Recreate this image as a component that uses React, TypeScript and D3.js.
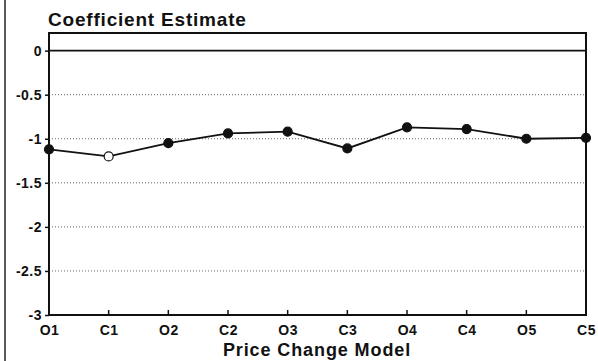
import { useEffect, useRef } from 'react';
import * as d3 from 'd3';

const models = ['O1', 'C1', 'O2', 'C2', 'O3', 'C3', 'O4', 'C4', 'O5', 'C5'];
const estimates = [-1.12, -1.2, -1.05, -0.94, -0.92, -1.11, -0.87, -0.89, -1.0, -0.99];
const hollow = [false, true, false, false, false, false, false, false, false, false];
const yTicks = [0, -0.5, -1, -1.5, -2, -2.5, -3];

const W = 598;
const H = 361;
const margin = { top: 33, right: 12, bottom: 46, left: 49 };
const font = '"Liberation Sans", Arial, sans-serif';

const App = () => {
    const svgRef = useRef(null);

    useEffect(() => {
        if (!svgRef.current) return;
        const svg = d3.select(svgRef.current);
        svg.selectAll('*').remove();

        const x = d3.scalePoint().domain(models).range([margin.left, W - margin.right]);
        const y = d3.scaleLinear().domain([-3, 0.2]).range([H - margin.bottom, margin.top]);

        // scan border on the left
        svg.append('line')
            .attr('x1', 5).attr('x2', 5).attr('y1', 0).attr('y2', H)
            .attr('stroke', '#222').attr('stroke-width', 1.5);

        // grid
        svg.append('g').selectAll('line')
            .data(yTicks.filter(d => d !== 0 && d !== -3))
            .join('line')
            .attr('x1', margin.left).attr('x2', W - margin.right)
            .attr('y1', d => y(d)).attr('y2', d => y(d))
            .attr('stroke', '#666').attr('stroke-width', 1)
            .attr('stroke-dasharray', '1,2');

        svg.append('line')
            .attr('x1', margin.left).attr('x2', W - margin.right)
            .attr('y1', y(0)).attr('y2', y(0))
            .attr('stroke', '#111').attr('stroke-width', 1.8);

        // frame
        svg.append('rect')
            .attr('x', margin.left).attr('y', margin.top)
            .attr('width', W - margin.right - margin.left)
            .attr('height', H - margin.bottom - margin.top)
            .attr('fill', 'none').attr('stroke', '#111').attr('stroke-width', 2);

        // y axis
        const yAxis = svg.append('g')
            .attr('transform', `translate(${margin.left},0)`)
            .call(d3.axisLeft(y).tickValues(yTicks).tickSize(4).tickPadding(3).tickFormat(d => String(d)));
        yAxis.select('.domain').remove();
        yAxis.selectAll('line').attr('stroke', '#111').attr('stroke-width', 1.5);
        yAxis.selectAll('text')
            .attr('font-family', font).attr('font-weight', 'bold').attr('font-size', 14)
            .attr('letter-spacing', 0.5).attr('fill', '#111');

        // x axis
        const xAxis = svg.append('g')
            .attr('transform', `translate(0,${H - margin.bottom})`)
            .call(d3.axisBottom(x).tickSize(0).tickPadding(10));
        xAxis.select('.domain').remove();
        xAxis.selectAll('text')
            .attr('font-family', font).attr('font-weight', 'bold').attr('font-size', 14)
            .attr('letter-spacing', 0.5).attr('fill', '#111');
        svg.append('g').selectAll('line')
            .data(models.slice(1, -1))
            .join('line')
            .attr('x1', d => x(d)).attr('x2', d => x(d))
            .attr('y1', H - margin.bottom).attr('y2', H - margin.bottom - 5)
            .attr('stroke', '#111').attr('stroke-width', 1.5);

        // series
        const line = d3.line().x((d, i) => x(models[i])).y(d => y(d));
        svg.append('path')
            .datum(estimates)
            .attr('d', line)
            .attr('fill', 'none').attr('stroke', '#111').attr('stroke-width', 1.8);

        svg.append('g').selectAll('circle')
            .data(estimates)
            .join('circle')
            .attr('cx', (d, i) => x(models[i]))
            .attr('cy', d => y(d))
            .attr('r', 4.5)
            .attr('fill', (d, i) => hollow[i] ? '#fff' : '#111')
            .attr('stroke', '#111').attr('stroke-width', 1.2);

        // titles
        svg.append('text')
            .attr('x', 48).attr('y', 26)
            .attr('font-family', font).attr('font-weight', 'bold').attr('font-size', 19)
            .attr('letter-spacing', 0.8).attr('fill', '#111')
            .text('Coefficient Estimate');

        svg.append('text')
            .attr('x', 317).attr('y', 356)
            .attr('text-anchor', 'middle')
            .attr('font-family', font).attr('font-weight', 'bold').attr('font-size', 18)
            .attr('letter-spacing', 0.9).attr('fill', '#111')
            .text('Price Change Model');
    }, []);

    return (
        <div style={{ position: 'fixed', left: 0, top: 0, width: W, height: H, background: '#fff' }}>
            <svg ref={svgRef} width={W} height={H} />
        </div>
    );
};

export default App;
